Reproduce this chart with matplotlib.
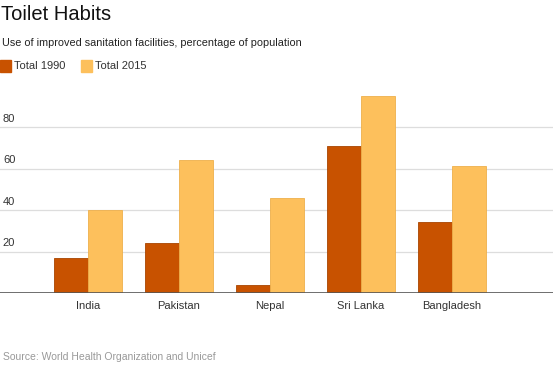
import matplotlib
matplotlib.use("Agg")
import matplotlib.pyplot as plt
import numpy as np

plt.rcParams['font.family'] = ['Liberation Sans', 'DejaVu Sans']

# Datos
countries = ['India', 'Pakistan', 'Nepal', 'Sri Lanka', 'Bangladesh']
total_1990 = [17, 24, 4, 71, 34]
total_2015 = [40, 64, 46, 95, 61]
yticks = [20, 40, 60, 80]

c1990 = '#c85200'
c2015 = '#fdc05c'

fig = plt.figure(figsize=(5.53, 3.69), dpi=100)
ax = fig.add_axes([0, 0.206, 1, 0.562])

x = np.arange(len(countries))
w = 0.375
ax.bar(x - w / 2, total_1990, w, color=c1990, edgecolor='#a84400', linewidth=0.6, zorder=3)
ax.bar(x + w / 2, total_2015, w, color=c2015, edgecolor='#eeb04c', linewidth=0.6, zorder=3)

ax.set_xlim(-0.967, 5.11)
ax.set_ylim(0, 100)

# Rejilla y etiquetas del eje y dentro del gráfico
for v in yticks:
    ax.axhline(v, color='#dddddd', linewidth=0.9, zorder=1)
    ax.text(-0.935, v + 1.5, str(v), fontsize=8, color='#333333', va='bottom', ha='left')
ax.axhline(0, color='#555555', linewidth=1.2, zorder=4)

ax.set_xticks(x)
ax.set_xticklabels(countries, fontsize=8, color='#333333')
ax.tick_params(axis='x', length=0, pad=6)
ax.set_yticks([])
for s in ax.spines.values():
    s.set_visible(False)

# Títulos
fig.text(0.002, 0.962, 'Toilet Habits', fontsize=14.5, color='#111111', va='center', ha='left')
fig.text(0.004, 0.883, 'Use of improved sanitation facilities, percentage of population',
         fontsize=7.8, color='#222222', va='center', ha='left')

# Leyenda
fig.patches.append(plt.Rectangle((0.0, 0.805), 0.02, 0.033, transform=fig.transFigure,
                                 color=c1990, figure=fig))
fig.text(0.026, 0.821, 'Total 1990', fontsize=8, color='#333333', va='center', ha='left')
fig.patches.append(plt.Rectangle((0.146, 0.805), 0.02, 0.033, transform=fig.transFigure,
                                 color=c2015, figure=fig))
fig.text(0.172, 0.821, 'Total 2015', fontsize=8, color='#333333', va='center', ha='left')

fig.text(0.006, 0.033, 'Source: World Health Organization and Unicef',
         fontsize=7.5, color='#999999', va='center', ha='left')

fig.savefig('out.png', dpi=100)
